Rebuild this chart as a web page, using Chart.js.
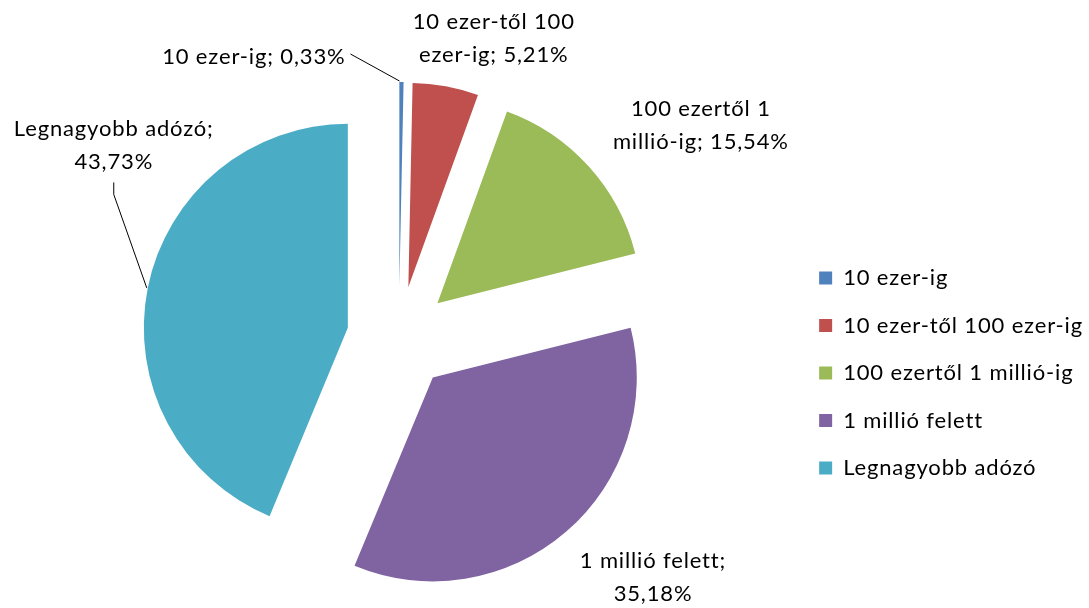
<!DOCTYPE html>
<html><head><meta charset="utf-8">
<script src="https://cdn.jsdelivr.net/npm/chart.js@4/dist/chart.umd.min.js"></script>
<style>html,body{margin:0;padding:0;background:#fff}#wrap{width:1089px;height:608px;position:relative}</style>
</head><body><div id="wrap"><canvas id="c"></canvas></div>
<script>
// ---- data ----
const categories = ['10 ezer-ig', '10 ezer-től 100 ezer-ig', '100 ezertől 1 millió-ig', '1 millió felett', 'Legnagyobb adózó'];
const shares = [0.33, 5.21, 15.54, 35.18, 43.73];
const colors = ['#4F81BD', '#C0504D', '#9BBB59', '#8064A2', '#4BACC6'];

// ---- style / layout ----
const FONT = 'Lato';
const FONT_SIZE = 22;
const LETTER_SPACING = '0.85px';
const RADIUS = 204;
const EXPLODE = 52;
const LINE_GAP = 33;
const WRAP = 212;
const labelLayout = [
  {dx: -56, dy: -25, align: 'right', leader: 'side'},
  {dx: 48, dy: -48, align: 'center'},
  {dx: 112, dy: -41, align: 'center'},
  {dx: 87, dy: 46, align: 'center'},
  {dx: -34, dy: -143, align: 'center', leader: 'below'}
];

function fmt(v) { return v.toFixed(2).replace('.', ',') + '%'; }
function wrapText(ctx, text, maxW) {
  const words = text.split(' ');
  const lines = [];
  let cur = '';
  for (const w of words) {
    const t = cur ? cur + ' ' + w : w;
    if (cur && ctx.measureText(t).width > maxW) { lines.push(cur); cur = w; } else cur = t;
  }
  if (cur) lines.push(cur);
  return lines;
}

const spacingPlugin = {
  id: 'letterSpacing',
  beforeUpdate(chart) { chart.ctx.letterSpacing = LETTER_SPACING; },
  beforeDraw(chart) { chart.ctx.letterSpacing = LETTER_SPACING; }
};

// draw each slice pulled out from the centre along its mid angle
const explode = {
  id: 'explode',
  beforeDatasetDraw(chart, args) {
    const ctx = chart.ctx;
    args.meta.data.forEach(arc => {
      const {startAngle, endAngle} = arc.getProps(['startAngle', 'endAngle'], true);
      const mid = (startAngle + endAngle) / 2;
      ctx.save();
      ctx.translate(Math.cos(mid) * EXPLODE, Math.sin(mid) * EXPLODE);
      arc.draw(ctx, chart.chartArea);
      ctx.restore();
    });
    return false;
  }
};

const sliceLabels = {
  id: 'sliceLabels',
  afterDatasetsDraw(chart) {
    const ctx = chart.ctx;
    const meta = chart.getDatasetMeta(0);
    ctx.save();
    ctx.letterSpacing = LETTER_SPACING;
    ctx.font = FONT_SIZE + 'px ' + FONT;
    ctx.fillStyle = '#000';
    ctx.strokeStyle = '#000';
    ctx.lineWidth = 1;
    meta.data.forEach((arc, i) => {
      const {x, y, startAngle, endAngle, outerRadius} = arc.getProps(['x', 'y', 'startAngle', 'endAngle', 'outerRadius'], true);
      const mid = (startAngle + endAngle) / 2;
      const cx = x + Math.cos(mid) * EXPLODE, cy = y + Math.sin(mid) * EXPLODE;
      const ox = cx + Math.cos(mid) * outerRadius, oy = cy + Math.sin(mid) * outerRadius;
      const L = labelLayout[i];
      const ax = ox + L.dx, ay = oy + L.dy;
      const text = categories[i] + '; ' + fmt(chart.data.datasets[0].data[i]);
      const lines = L.align === 'right' ? [text] : wrapText(ctx, text, WRAP);
      ctx.textAlign = L.align;
      ctx.textBaseline = 'middle';
      const top = ay - (lines.length - 1) * LINE_GAP / 2;
      lines.forEach((ln, k) => ctx.fillText(ln, ax, top + k * LINE_GAP));
      if (L.leader === 'side') {
        ctx.beginPath();
        ctx.moveTo(ax + 5, ay - 3);
        ctx.lineTo(ox - 2, oy - 1);
        ctx.stroke();
      } else if (L.leader === 'below') {
        const by = top + (lines.length - 1) * LINE_GAP + 21;
        ctx.beginPath();
        ctx.moveTo(ax, by);
        ctx.lineTo(ax, by + 12);
        ctx.lineTo(ox - 1, oy);
        ctx.stroke();
      }
    });
    ctx.restore();
  }
};

new Chart(document.getElementById('c'), {
  type: 'pie',
  data: {
    labels: categories,
    datasets: [{
      data: shares,
      backgroundColor: colors,
      borderWidth: 0,
      radius: RADIUS
    }]
  },
  options: {
    responsive: true,
    maintainAspectRatio: false,
    animation: false,
    events: [],
    layout: {padding: {left: 4, right: -4, top: 68, bottom: 0}},
    plugins: {
      tooltip: {enabled: false},
      title: {display: false},
      legend: {
        position: 'right',
        align: 'center',
        title: {display: true, text: '', font: {size: 10}, padding: {top: 29, bottom: 29}},
        labels: {
          color: '#000',
          font: {family: FONT, size: FONT_SIZE},
          boxWidth: 13,
          boxHeight: 13,
          padding: 25.5
        }
      }
    }
  },
  plugins: [spacingPlugin, explode, sliceLabels]
});
</script>
</body></html>
